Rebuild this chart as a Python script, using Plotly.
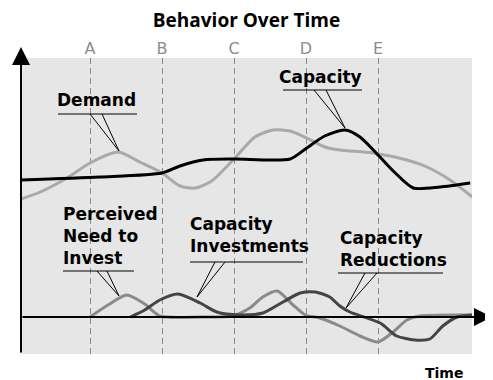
import plotly.graph_objects as go

# Checkpoints along the time axis (A..E sit at t = 1..5)
checkpoint_labels = ['A', 'B', 'C', 'D', 'E']
checkpoint_times = [1, 2, 3, 4, 5]

# Upper pair of curves
demand_t = [0.04, 0.31, 0.68, 1.0, 1.39, 1.69, 2.0, 2.25, 2.46, 2.69, 3.0, 3.29,
            3.54, 3.78, 4.01, 4.26, 4.47, 4.93, 5.4, 5.68, 6.0, 6.31]
demand_v = [11.8, 12.5, 13.9, 15.4, 16.5, 15.5, 14.4, 13.1, 12.9, 13.6, 15.8, 18.0,
            18.7, 18.6, 17.9, 17.0, 16.7, 16.4, 15.7, 15.0, 13.7, 12.0]

capacity_t = [0.04, 1.14, 2.0, 2.25, 2.57, 3.0, 3.78, 4.01, 4.26, 4.54, 4.75, 5.0,
              5.24, 5.49, 5.86, 6.28]
capacity_v = [13.7, 14.0, 14.4, 15.1, 15.7, 15.8, 15.8, 16.9, 18.1, 18.7, 18.0, 16.2,
              14.4, 12.9, 13.0, 13.4]

# Lower pair of curves (around the zero line)
need_t = [1.0, 1.25, 1.51, 1.76, 1.97, 2.53, 2.97, 3.22, 3.4, 3.6, 3.82, 3.99, 4.19,
          4.47, 4.75, 5.0, 5.21, 5.4, 5.58, 6.31]
need_v = [0, 1.2, 2.2, 1.3, 0.1, 0, 0.1, 0.9, 2.0, 2.6, 1.2, 0.2, -0.1,
          -0.9, -1.9, -2.5, -1.5, -0.3, 0.1, 0.2]

invest_t = [1.56, 1.76, 1.97, 2.22, 2.53, 2.76, 3.08, 3.4, 3.68, 3.92, 4.13, 4.33,
            4.47, 4.61, 5.03, 5.26, 5.51, 5.72, 5.9, 6.1, 6.31]
invest_v = [0, 0.7, 1.7, 2.3, 1.4, 0.5, 0.2, 0.4, 1.5, 2.4, 2.5, 2.0,
            1.1, 0.5, -0.6, -1.9, -2.3, -2.2, -0.9, 0.0, 0.2]

TITLE = 'Behavior Over Time'
X_TITLE = 'Time'
X_RANGE = [0.0417, 6.3056]
Y_RANGE = [-3.7, 25.9]

# the page body adds an 8px margin, so the figure is 8px smaller than the window
FIG_W, FIG_H = 485, 372

LABEL_FONT = dict(family='DejaVu Sans', size=17, color='black', weight='bold')

# Callouts: text, text anchor, underline span, pointer start xs, pointer target
callouts = [
    dict(text='Demand', x=1.097, y=21.7, xanchor='center',
         line=(0.556, 1.653, 20.3), feet=(1.0, 1.167), target=(1.403, 16.6)),
    dict(text='Capacity', x=4.208, y=24.0, xanchor='center',
         line=(3.681, 4.778, 22.7), feet=(4.111, 4.278), target=(4.542, 18.9)),
    dict(text='Perceived<br>Need to<br>Invest', x=0.6, y=8.1, xanchor='left',
         line=(0.625, 1.611, 4.6), feet=(1.097, 1.236), target=(1.403, 2.1)),
    dict(text='Capacity<br>Investments', x=2.36, y=8.2, xanchor='left',
         line=(2.389, 3.958, 5.5), feet=(2.736, 2.875), target=(2.486, 2.0)),
    dict(text='Capacity<br>Reductions', x=4.445, y=6.8, xanchor='left',
         line=(4.444, 5.903, 4.4), feet=(4.819, 4.986), target=(4.556, 0.9)),
]


def add_curve(fig, t, v, color, name):
    fig.add_trace(go.Scatter(
        x=t, y=v, mode='lines', name=name,
        line=dict(color=color, width=3, shape='spline', smoothing=0.7),
        showlegend=False, hoverinfo='skip'
    ))


fig = go.Figure()

add_curve(fig, demand_t, demand_v, '#a9a9a9', 'Demand')
add_curve(fig, capacity_t, capacity_v, '#000000', 'Capacity')
add_curve(fig, need_t, need_v, '#8a8a8a', 'Perceived Need to Invest')
add_curve(fig, invest_t, invest_v, '#444444', 'Capacity Investments')

shapes = []
annotations = []
for c in callouts:
    x0, x1, yl = c['line']
    shapes.append(dict(type='line', xref='x', yref='y', x0=x0, x1=x1, y0=yl, y1=yl,
                       line=dict(color='black', width=1), layer='above'))
    tx, ty = c['target']
    for fx in c['feet']:
        shapes.append(dict(type='line', xref='x', yref='y', x0=fx, x1=tx, y0=yl, y1=ty,
                           line=dict(color='black', width=1), layer='above'))
    annotations.append(dict(text=c['text'], x=c['x'], y=c['y'], xref='x', yref='y',
                            xanchor=c['xanchor'], yanchor='middle', align='left',
                            showarrow=False, font=LABEL_FONT))

# Axis arrows (vertical and horizontal through zero)
annotations.append(dict(text='', xref='paper', yref='paper', x=0, y=1.037,
                        ax=0, ay=307, showarrow=True, arrowhead=2,
                        arrowwidth=2, arrowsize=1.8, arrowcolor='black'))
annotations.append(dict(text='', xref='paper', yref='y', x=1.0443, y=0,
                        ax=-471, ay=0, showarrow=True, arrowhead=2,
                        arrowwidth=2, arrowsize=1.8, arrowcolor='black'))

annotations.append(dict(text=X_TITLE, xref='paper', yref='paper', x=0.938, y=-0.064,
                        xanchor='center', yanchor='middle', showarrow=False,
                        font=dict(family='DejaVu Sans', size=14, color='black',
                                  weight='bold')))

fig.update_layout(
    width=FIG_W, height=FIG_H, autosize=False,
    margin=dict(l=13, r=21, t=50, b=26),
    paper_bgcolor='white',
    plot_bgcolor='#e6e6e6',
    title=dict(text=TITLE, x=0.5, xref='paper', y=1 - 12 / FIG_H, yanchor='middle',
               font=dict(family='Open Sans', size=19, color='black', weight='bold')),
    xaxis=dict(range=X_RANGE, side='top', tickvals=checkpoint_times,
               ticktext=checkpoint_labels, ticks='', showline=False, zeroline=False,
               showgrid=True, gridcolor='#8c8c8c', gridwidth=1, griddash='6px,4px',
               tickfont=dict(family='DejaVu Sans', size=16, color='#8c8c8c'),
               fixedrange=True),
    yaxis=dict(range=Y_RANGE, showgrid=False, zeroline=False, showticklabels=False,
               showline=False, fixedrange=True),
    shapes=shapes,
    annotations=annotations,
    showlegend=False,
)

fig.write_html("out.html")
